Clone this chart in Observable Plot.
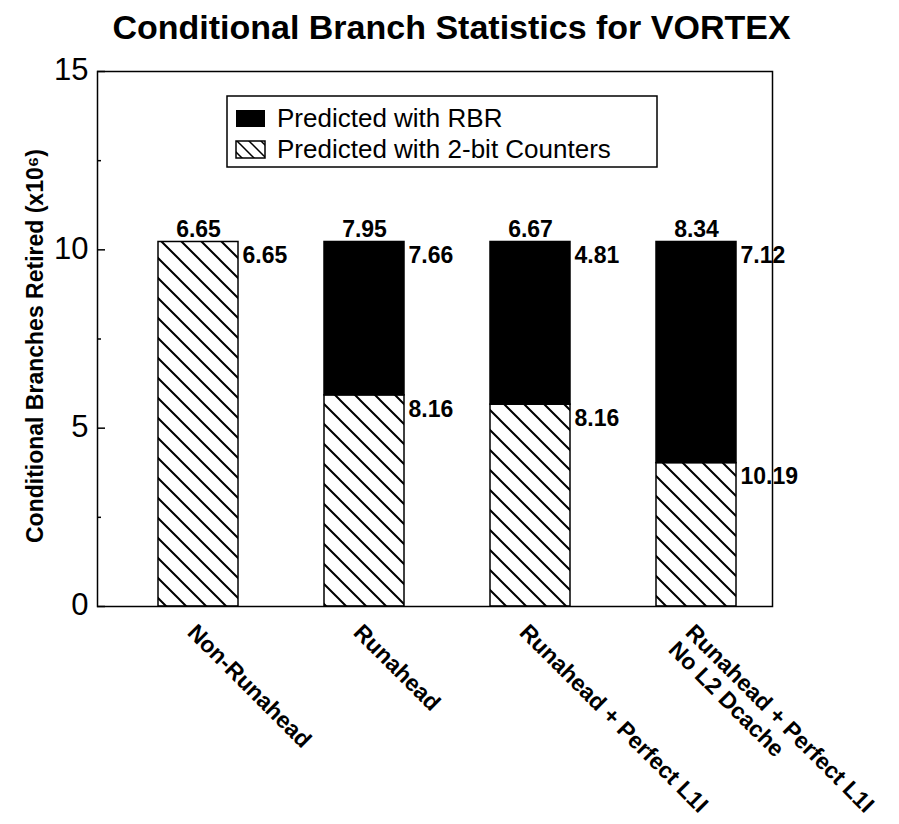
<!DOCTYPE html>
<html><head><meta charset="utf-8">
<script src="https://cdn.jsdelivr.net/npm/d3@7"></script>
<script src="https://cdn.jsdelivr.net/npm/@observablehq/plot@0.6"></script>
<style>body{margin:0;background:#fff;}</style>
</head><body><div id="chart"></div>
<script>
const titleText = "Conditional Branch Statistics for VORTEX";
const yLabel = "Conditional Branches Retired (x10\u2076)";
const categories = ["Non-Runahead", "Runahead", "Runahead + Perfect L1I", "Runahead + Perfect L1I\nNo L2 Dcache"];
const counterBranches = [10.22, 5.92, 5.66, 4.02];
const rbrBranches = [0, 4.30, 4.56, 6.20];
const topLabels = ["6.65", "7.95", "6.67", "8.34"];
const counterLabels = ["6.65", "8.16", "8.16", "10.19"];
const rbrLabels = ["", "7.66", "4.81", "7.12"];
const yTicks = [0, 5, 10, 15];
const yMinorTicks = [2.5, 7.5, 12.5];
const seriesNames = ["Predicted with RBR", "Predicted with 2-bit Counters"];

const FONT = "'Liberation Sans', Arial, Helvetica, sans-serif";
const W = 899, H = 824, ML = 97, MR = 127, MT = 71, MB = 218;
const frameW = W - ML - MR;

const svg = Plot.plot({
  width: W, height: H,
  marginLeft: ML, marginRight: MR, marginTop: MT, marginBottom: MB,
  style: {fontFamily: FONT, background: "white", color: "black"},
  x: {type: "band", domain: categories, range: [70.4, 823], paddingInner: 0.52, paddingOuter: 0.52, axis: null},
  y: {domain: [0, 15], axis: null},
  marks: [
    Plot.barY(categories, {x: d => d, y1: 0, y2: (d, i) => counterBranches[i], fill: "url(#hatch)", stroke: "black", strokeWidth: 1.5}),
    Plot.barY(categories, {filter: (d, i) => rbrBranches[i] > 0, x: d => d, y1: (d, i) => counterBranches[i], y2: (d, i) => counterBranches[i] + rbrBranches[i], fill: "black", stroke: "black", strokeWidth: 1.5}),
    Plot.frame({stroke: "black", strokeWidth: 1.5}),
    Plot.tickY(yTicks, {y: d => d, stroke: "black", strokeWidth: 1.5, insetRight: frameW - 8}),
    Plot.tickY(yMinorTicks, {y: d => d, stroke: "black", strokeWidth: 1.5, insetRight: frameW - 4}),
    Plot.text(yTicks, {y: d => d, text: d => String(d), frameAnchor: "left", textAnchor: "end", dx: -9, dy: -1, fontSize: 31}),
    Plot.text([yLabel], {frameAnchor: "left", rotate: -90, textAnchor: "middle", dx: -62, dy: 7, fontSize: 23, fontWeight: "bold"}),
    Plot.text([titleText], {frameAnchor: "top", lineAnchor: "bottom", dx: 16.5, dy: -33, fontSize: 34, fontWeight: "bold"}),
    Plot.text(categories, {x: d => d, y: (d, i) => counterBranches[i] + rbrBranches[i], text: (d, i) => topLabels[i], lineAnchor: "bottom", dy: -5, fontSize: 23, fontWeight: "bold"}),
    Plot.text(categories, {x: d => d, y: (d, i) => counterBranches[i], text: (d, i) => counterLabels[i], textAnchor: "start", lineAnchor: "top", dx: 44, dy: 5, fontSize: 23, fontWeight: "bold"}),
    Plot.text(categories, {filter: (d, i) => rbrBranches[i] > 0, x: d => d, y: (d, i) => counterBranches[i] + rbrBranches[i], text: (d, i) => rbrLabels[i], textAnchor: "start", lineAnchor: "top", dx: 44, dy: 5, fontSize: 23, fontWeight: "bold"}),
    Plot.text(categories, {x: d => d, text: d => d, frameAnchor: "bottom", rotate: 45, textAnchor: "start", lineAnchor: "top", lineHeight: 1.05, dx: 0, dy: 15, fontSize: 23, fontWeight: "bold"})
  ]
});

const s = d3.select(svg);
const defs = s.insert("defs", ":first-child");
const pat = defs.append("pattern").attr("id", "hatch").attr("patternUnits", "userSpaceOnUse").attr("width", 20).attr("height", 20);
pat.append("rect").attr("width", 20).attr("height", 20).attr("fill", "white");
pat.append("path").attr("d", "M-5,-5L25,25M-5,15L5,25M15,-5L25,5").attr("stroke", "black").attr("stroke-width", 2);
const pat2 = defs.append("pattern").attr("id", "hatch2").attr("patternUnits", "userSpaceOnUse").attr("width", 12).attr("height", 12);
pat2.append("rect").attr("width", 12).attr("height", 12).attr("fill", "white");
pat2.append("path").attr("d", "M-3,-3L15,15M-3,9L3,15M9,-3L15,3").attr("stroke", "black").attr("stroke-width", 1.5);

const lg = s.append("g").attr("font-family", FONT).attr("font-size", 26).attr("text-anchor", "start");
lg.append("rect").attr("x", 227).attr("y", 96).attr("width", 430).attr("height", 71).attr("fill", "white").attr("stroke", "black").attr("stroke-width", 1.5);
lg.append("rect").attr("x", 236).attr("y", 110).attr("width", 29).attr("height", 17).attr("fill", "black");
lg.append("rect").attr("x", 236).attr("y", 141).attr("width", 29).attr("height", 17).attr("fill", "url(#hatch2)").attr("stroke", "black").attr("stroke-width", 1.5);
lg.append("text").attr("x", 277).attr("y", 127).attr("text-anchor", "start").text(seriesNames[0]);
lg.append("text").attr("x", 277).attr("y", 158).attr("text-anchor", "start").text(seriesNames[1]);

document.getElementById("chart").appendChild(svg);
</script>
</body></html>
